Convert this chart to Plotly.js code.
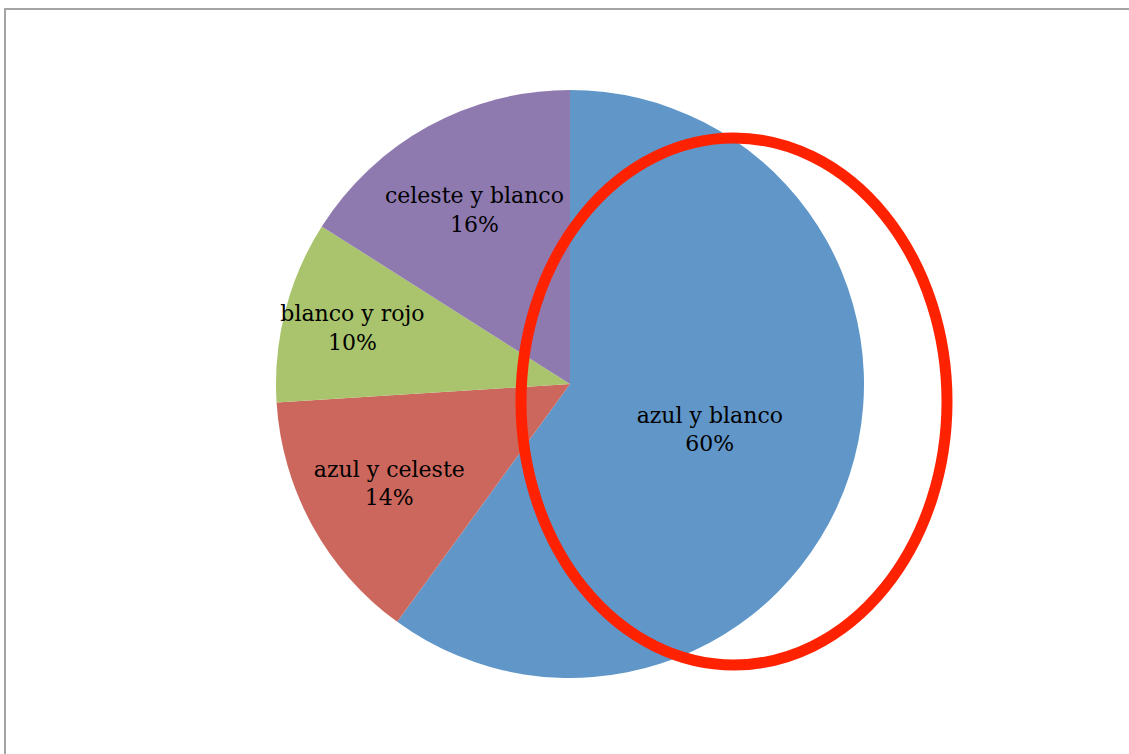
<!DOCTYPE html>
<html>
<head>
<meta charset="utf-8">
<script src="https://cdn.plot.ly/plotly-3.0.1.min.js"></script>
<style>html,body{margin:0;padding:0;background:#fff;}#chart{width:1129px;height:754px;}</style>
</head>
<body>
<div id="chart"></div>
<script>
var categories = ["azul y blanco", "azul y celeste", "blanco y rojo", "celeste y blanco"];
var values = [60, 14, 10, 16];
var colors = ["#6096C8", "#CC675D", "#A9C46C", "#8F7AB0"];

var W = 1129, H = 754;
var cx = 570, cy = 384, r = 294;

var trace = {
  type: "pie",
  labels: categories,
  values: values,
  sort: false,
  direction: "clockwise",
  rotation: 0,
  marker: {colors: colors, line: {width: 0}},
  textinfo: "label+percent",
  texttemplate: "%{label}<br>%{percent:.0%}",
  textposition: "inside",
  insidetextorientation: "horizontal",
  textfont: {family: "DejaVu Serif, Liberation Serif, serif", size: 22, color: "#000"},
  hoverinfo: "skip",
  domain: {x: [(cx - r) / W, (cx + r) / W], y: [(H - cy - r) / H, (H - cy + r) / H]}
};

var layout = {
  width: W, height: H,
  margin: {l: 0, r: 0, t: 0, b: 0},
  showlegend: false,
  paper_bgcolor: "#fff",
  uniformtext: {mode: "show", minsize: 22},
  shapes: [
    {type: "rect", xref: "paper", yref: "paper", x0: 5 / W, x1: 1.05, y0: -0.05, y1: 1 - 9 / H,
     line: {color: "#A4A4A4", width: 2}, fillcolor: "rgba(0,0,0,0)"},
    {type: "circle", xref: "paper", yref: "paper", x0: 521 / W, x1: 947 / W, y0: 1 - 665 / H, y1: 1 - 138 / H,
     line: {color: "#FF2200", width: 11}, fillcolor: "rgba(0,0,0,0)"}
  ]
};

Plotly.newPlot("chart", [trace], layout, {displayModeBar: false, staticPlot: true});
</script>
</body>
</html>
